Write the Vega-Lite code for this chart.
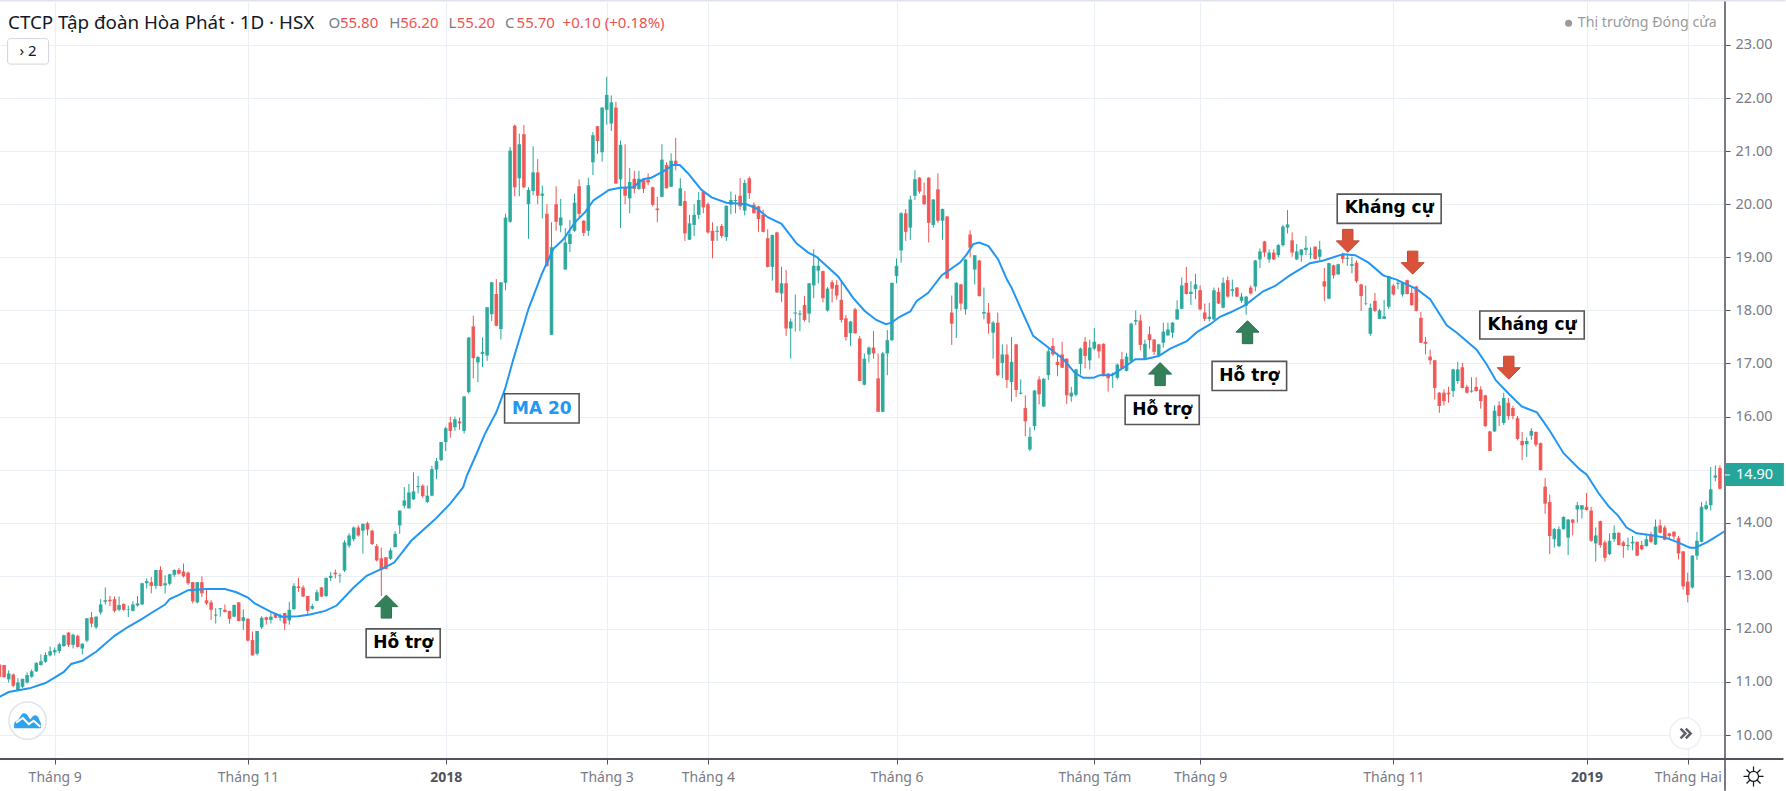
{"$schema":"https://vega.github.io/schema/vega-lite/v6.json","width":1725,"height":757,"autosize":"none","padding":{"left":0,"top":2,"right":61,"bottom":32},"background":"#ffffff","config":{"view":{"stroke":null}},
"datasets":{
"candles":[
{"bar":0,"open":11.33,"high":11.33,"low":11.05,"close":11.1},{"bar":1,"open":11.32,"high":11.32,"low":11.08,"close":11.09},{"bar":2,"open":11.05,"high":11.22,"low":10.99,"close":11.16},{"bar":3,"open":11.14,"high":11.16,"low":10.9,"close":10.93},{"bar":4,"open":10.85,"high":11.07,"low":10.83,"close":10.99},{"bar":5,"open":10.91,"high":11.06,"low":10.89,"close":11.06},{"bar":6,"open":10.99,"high":11.18,"low":10.97,"close":11.13},{"bar":7,"open":11.1,"high":11.24,"low":11.08,"close":11.2},{"bar":8,"open":11.2,"high":11.37,"low":11.19,"close":11.36},{"bar":9,"open":11.32,"high":11.52,"low":11.31,"close":11.39},
{"bar":10,"open":11.38,"high":11.56,"low":11.36,"close":11.51},{"bar":11,"open":11.5,"high":11.67,"low":11.48,"close":11.58},{"bar":12,"open":11.56,"high":11.65,"low":11.5,"close":11.6},{"bar":13,"open":11.58,"high":11.74,"low":11.54,"close":11.71},{"bar":14,"open":11.68,"high":11.89,"low":11.66,"close":11.88},{"bar":15,"open":11.93,"high":11.94,"low":11.66,"close":11.7},{"bar":16,"open":11.7,"high":11.91,"low":11.63,"close":11.89},{"bar":17,"open":11.87,"high":11.89,"low":11.65,"close":11.66},{"bar":18,"open":11.63,"high":11.73,"low":11.52,"close":11.72},{"bar":19,"open":11.78,"high":12.2,"low":11.75,"close":12.2},
{"bar":20,"open":12.22,"high":12.32,"low":12.03,"close":12.1},{"bar":21,"open":12.03,"high":12.24,"low":12.0,"close":12.23},{"bar":22,"open":12.31,"high":12.56,"low":12.27,"close":12.46},{"bar":23,"open":12.51,"high":12.78,"low":12.46,"close":12.54},{"bar":24,"open":12.55,"high":12.62,"low":12.43,"close":12.52},{"bar":25,"open":12.56,"high":12.61,"low":12.31,"close":12.34},{"bar":26,"open":12.36,"high":12.61,"low":12.33,"close":12.45},{"bar":27,"open":12.47,"high":12.48,"low":12.34,"close":12.36},{"bar":28,"open":12.36,"high":12.44,"low":12.22,"close":12.37},{"bar":29,"open":12.34,"high":12.52,"low":12.33,"close":12.46},
{"bar":30,"open":12.44,"high":12.62,"low":12.42,"close":12.48},{"bar":31,"open":12.46,"high":12.87,"low":12.45,"close":12.86},{"bar":32,"open":12.86,"high":12.95,"low":12.76,"close":12.9},{"bar":33,"open":12.88,"high":12.98,"low":12.67,"close":12.81},{"bar":34,"open":12.81,"high":13.11,"low":12.75,"close":13.11},{"bar":35,"open":13.11,"high":13.18,"low":12.8,"close":12.81},{"bar":36,"open":12.82,"high":13.01,"low":12.67,"close":12.86},{"bar":37,"open":12.85,"high":13.04,"low":12.82,"close":13.03},{"bar":38,"open":13.02,"high":13.12,"low":12.98,"close":13.11},{"bar":39,"open":13.11,"high":13.15,"low":13.02,"close":13.04},
{"bar":40,"open":13.08,"high":13.23,"low":12.97,"close":12.99},{"bar":41,"open":13.06,"high":13.08,"low":12.83,"close":12.86},{"bar":42,"open":12.88,"high":12.88,"low":12.48,"close":12.52},{"bar":43,"open":12.5,"high":12.88,"low":12.48,"close":12.88},{"bar":44,"open":12.88,"high":12.99,"low":12.6,"close":12.67},{"bar":45,"open":12.54,"high":12.73,"low":12.45,"close":12.48},{"bar":46,"open":12.5,"high":12.54,"low":12.17,"close":12.36},{"bar":47,"open":12.25,"high":12.39,"low":12.1,"close":12.27},{"bar":48,"open":12.37,"high":12.39,"low":12.23,"close":12.39},{"bar":49,"open":12.36,"high":12.46,"low":12.31,"close":12.32},
{"bar":50,"open":12.34,"high":12.34,"low":12.1,"close":12.19},{"bar":51,"open":12.23,"high":12.46,"low":12.22,"close":12.45},{"bar":52,"open":12.5,"high":12.5,"low":12.14,"close":12.15},{"bar":53,"open":12.15,"high":12.37,"low":11.98,"close":12.22},{"bar":54,"open":12.19,"high":12.2,"low":11.76,"close":11.78},{"bar":55,"open":11.79,"high":11.95,"low":11.5,"close":11.5},{"bar":56,"open":11.53,"high":11.96,"low":11.5,"close":11.96},{"bar":57,"open":12.03,"high":12.24,"low":12.0,"close":12.21},{"bar":58,"open":12.22,"high":12.23,"low":12.08,"close":12.17},{"bar":59,"open":12.17,"high":12.3,"low":12.1,"close":12.23},
{"bar":60,"open":12.29,"high":12.3,"low":12.2,"close":12.21},{"bar":61,"open":12.21,"high":12.29,"low":12.15,"close":12.25},{"bar":62,"open":12.3,"high":12.3,"low":11.98,"close":12.1},{"bar":63,"open":12.16,"high":12.51,"low":12.08,"close":12.36},{"bar":64,"open":12.37,"high":12.86,"low":12.36,"close":12.81},{"bar":65,"open":12.8,"high":12.96,"low":12.7,"close":12.77},{"bar":66,"open":12.78,"high":12.82,"low":12.6,"close":12.61},{"bar":67,"open":12.62,"high":12.62,"low":12.28,"close":12.34},{"bar":68,"open":12.38,"high":12.47,"low":12.36,"close":12.43},{"bar":69,"open":12.53,"high":12.74,"low":12.52,"close":12.69},
{"bar":70,"open":12.78,"high":12.79,"low":12.6,"close":12.61},{"bar":71,"open":12.62,"high":12.97,"low":12.6,"close":12.96},{"bar":72,"open":12.96,"high":13.07,"low":12.9,"close":13.0},{"bar":73,"open":13.06,"high":13.12,"low":12.95,"close":13.03},{"bar":74,"open":13.0,"high":13.05,"low":12.87,"close":13.01},{"bar":75,"open":13.1,"high":13.67,"low":13.07,"close":13.63},{"bar":76,"open":13.57,"high":13.8,"low":13.53,"close":13.76},{"bar":77,"open":13.69,"high":13.93,"low":13.65,"close":13.91},{"bar":78,"open":13.91,"high":13.95,"low":13.74,"close":13.76},{"bar":79,"open":13.85,"high":13.98,"low":13.42,"close":13.98},
{"bar":80,"open":13.99,"high":14.02,"low":13.76,"close":13.87},{"bar":81,"open":13.85,"high":13.87,"low":13.58,"close":13.6},{"bar":82,"open":13.56,"high":13.6,"low":13.27,"close":13.29},{"bar":83,"open":13.33,"high":13.53,"low":12.62,"close":13.12},{"bar":84,"open":13.35,"high":13.35,"low":13.12,"close":13.13},{"bar":85,"open":13.32,"high":13.52,"low":13.3,"close":13.48},{"bar":86,"open":13.54,"high":13.84,"low":13.54,"close":13.79},{"bar":87,"open":13.95,"high":14.23,"low":13.79,"close":14.23},{"bar":88,"open":14.32,"high":14.67,"low":14.27,"close":14.42},{"bar":89,"open":14.27,"high":14.73,"low":14.27,"close":14.57},
{"bar":90,"open":14.44,"high":14.95,"low":14.43,"close":14.59},{"bar":91,"open":14.67,"high":14.88,"low":14.55,"close":14.69},{"bar":92,"open":14.7,"high":14.72,"low":14.47,"close":14.5},{"bar":93,"open":14.39,"high":14.7,"low":14.37,"close":14.51},{"bar":94,"open":14.51,"high":15.07,"low":14.5,"close":15.01},{"bar":95,"open":15.0,"high":15.22,"low":14.82,"close":15.16},{"bar":96,"open":15.18,"high":15.52,"low":15.16,"close":15.52},{"bar":97,"open":15.52,"high":15.81,"low":15.35,"close":15.78},{"bar":98,"open":15.89,"high":16.0,"low":15.6,"close":15.73},{"bar":99,"open":15.8,"high":16.0,"low":15.73,"close":15.95},
{"bar":100,"open":15.91,"high":15.98,"low":15.75,"close":15.87},{"bar":101,"open":15.73,"high":16.38,"low":15.68,"close":16.38},{"bar":102,"open":16.46,"high":17.49,"low":16.43,"close":17.49},{"bar":103,"open":17.7,"high":17.9,"low":16.72,"close":17.1},{"bar":104,"open":17.02,"high":17.14,"low":16.65,"close":17.12},{"bar":105,"open":17.18,"high":17.49,"low":16.93,"close":17.22},{"bar":106,"open":17.15,"high":18.06,"low":17.05,"close":18.06},{"bar":107,"open":17.93,"high":18.54,"low":17.8,"close":18.53},{"bar":108,"open":18.31,"high":18.59,"low":17.7,"close":17.71},{"bar":109,"open":17.65,"high":18.53,"low":17.45,"close":18.53},
{"bar":110,"open":18.52,"high":19.82,"low":18.38,"close":19.75},{"bar":111,"open":19.67,"high":21.08,"low":19.65,"close":21.01},{"bar":112,"open":21.48,"high":21.5,"low":20.15,"close":20.32},{"bar":113,"open":20.49,"high":21.33,"low":20.15,"close":21.13},{"bar":114,"open":21.32,"high":21.49,"low":20.3,"close":20.32},{"bar":115,"open":20.0,"high":20.32,"low":19.35,"close":20.27},{"bar":116,"open":20.25,"high":21.09,"low":20.17,"close":20.6},{"bar":117,"open":20.6,"high":20.85,"low":20.0,"close":20.16},{"bar":118,"open":20.16,"high":20.35,"low":19.73,"close":20.2},{"bar":119,"open":19.82,"high":20.0,"low":18.82,"close":18.84},
{"bar":120,"open":17.54,"high":19.66,"low":17.54,"close":19.19},{"bar":121,"open":20.0,"high":20.34,"low":19.5,"close":19.67},{"bar":122,"open":19.6,"high":20.1,"low":19.47,"close":19.75},{"bar":123,"open":18.77,"high":19.55,"low":18.77,"close":19.28},{"bar":124,"open":19.25,"high":19.7,"low":19.1,"close":19.44},{"bar":125,"open":19.5,"high":20.2,"low":19.48,"close":20.03},{"bar":126,"open":20.34,"high":20.47,"low":19.75,"close":19.82},{"bar":127,"open":19.69,"high":19.7,"low":19.4,"close":19.46},{"bar":128,"open":19.5,"high":20.5,"low":19.4,"close":20.36},{"bar":129,"open":20.79,"high":21.36,"low":20.55,"close":21.3},
{"bar":130,"open":21.47,"high":21.47,"low":20.95,"close":21.19},{"bar":131,"open":20.98,"high":21.83,"low":20.8,"close":21.82},{"bar":132,"open":21.78,"high":22.4,"low":21.5,"close":22.06},{"bar":133,"open":21.52,"high":22.05,"low":21.38,"close":21.92},{"bar":134,"open":21.82,"high":21.93,"low":20.39,"close":20.39},{"bar":135,"open":20.47,"high":21.2,"low":19.55,"close":21.12},{"bar":136,"open":20.32,"high":21.13,"low":20.0,"close":20.16},{"bar":137,"open":20.11,"high":20.68,"low":19.83,"close":20.42},{"bar":138,"open":20.48,"high":20.63,"low":20.21,"close":20.29},{"bar":139,"open":20.29,"high":20.63,"low":20.27,"close":20.48},
{"bar":140,"open":20.46,"high":20.49,"low":20.21,"close":20.29},{"bar":141,"open":20.46,"high":20.58,"low":20.36,"close":20.41},{"bar":142,"open":20.32,"high":20.33,"low":19.96,"close":19.99},{"bar":143,"open":19.92,"high":20.14,"low":19.66,"close":19.89},{"bar":144,"open":20.14,"high":21.13,"low":20.13,"close":20.84},{"bar":145,"open":20.74,"high":20.79,"low":20.3,"close":20.3},{"bar":146,"open":20.33,"high":20.96,"low":20.32,"close":20.82},{"bar":147,"open":20.82,"high":21.25,"low":20.64,"close":20.72},{"bar":148,"open":19.97,"high":20.49,"low":19.97,"close":20.3},{"bar":149,"open":20.06,"high":20.25,"low":19.31,"close":19.45},
{"bar":150,"open":19.33,"high":19.8,"low":19.33,"close":19.64},{"bar":151,"open":19.61,"high":20.0,"low":19.4,"close":19.8},{"bar":152,"open":19.8,"high":20.23,"low":19.72,"close":20.08},{"bar":153,"open":20.23,"high":20.25,"low":19.83,"close":19.94},{"bar":154,"open":20.0,"high":20.03,"low":19.45,"close":19.47},{"bar":155,"open":19.5,"high":19.66,"low":18.98,"close":19.31},{"bar":156,"open":19.48,"high":19.59,"low":19.31,"close":19.5},{"bar":157,"open":19.59,"high":19.63,"low":19.36,"close":19.4},{"bar":158,"open":19.38,"high":19.98,"low":19.31,"close":19.97},{"bar":159,"open":19.99,"high":20.24,"low":19.81,"close":20.08},
{"bar":160,"open":20.06,"high":20.18,"low":19.83,"close":20.08},{"bar":161,"open":20.16,"high":20.49,"low":19.89,"close":19.96},{"bar":162,"open":19.88,"high":20.46,"low":19.79,"close":20.4},{"bar":163,"open":20.49,"high":20.52,"low":20.1,"close":20.21},{"bar":164,"open":19.99,"high":20.04,"low":19.83,"close":19.83},{"bar":165,"open":19.96,"high":19.97,"low":19.48,"close":19.72},{"bar":166,"open":19.8,"high":19.9,"low":19.47,"close":19.48},{"bar":167,"open":19.36,"high":19.53,"low":18.81,"close":18.82},{"bar":168,"open":18.82,"high":19.43,"low":18.56,"close":19.42},{"bar":169,"open":19.47,"high":19.48,"low":18.33,"close":18.34},
{"bar":170,"open":18.32,"high":18.82,"low":18.16,"close":18.51},{"bar":171,"open":18.51,"high":18.76,"low":17.52,"close":17.66},{"bar":172,"open":17.66,"high":17.85,"low":17.09,"close":17.79},{"bar":173,"open":17.94,"high":18.3,"low":17.6,"close":17.96},{"bar":174,"open":17.92,"high":18.0,"low":17.61,"close":17.94},{"bar":175,"open":18.1,"high":18.27,"low":17.79,"close":17.82},{"bar":176,"open":17.94,"high":18.52,"low":17.77,"close":18.51},{"bar":177,"open":18.47,"high":19.15,"low":18.23,"close":18.84},{"bar":178,"open":18.75,"high":19.01,"low":18.51,"close":18.84},{"bar":179,"open":18.74,"high":18.75,"low":18.15,"close":18.23},
{"bar":180,"open":18.0,"high":18.44,"low":17.98,"close":18.41},{"bar":181,"open":18.53,"high":18.57,"low":18.15,"close":18.41},{"bar":182,"open":18.48,"high":18.57,"low":18.2,"close":18.28},{"bar":183,"open":18.2,"high":18.57,"low":17.77,"close":17.82},{"bar":184,"open":17.85,"high":17.91,"low":17.43,"close":17.5},{"bar":185,"open":17.57,"high":17.8,"low":17.33,"close":17.79},{"bar":186,"open":18.02,"high":18.05,"low":17.56,"close":17.57},{"bar":187,"open":17.47,"high":17.52,"low":16.67,"close":16.67},{"bar":188,"open":16.6,"high":17.19,"low":16.59,"close":17.09},{"bar":189,"open":17.17,"high":17.32,"low":17.02,"close":17.3},
{"bar":190,"open":17.3,"high":17.61,"low":17.09,"close":17.19},{"bar":191,"open":16.72,"high":17.19,"low":16.09,"close":16.09},{"bar":192,"open":16.09,"high":17.22,"low":16.08,"close":17.19},{"bar":193,"open":17.19,"high":17.63,"low":16.78,"close":17.44},{"bar":194,"open":17.44,"high":18.52,"low":17.42,"close":18.52},{"bar":195,"open":18.65,"high":18.98,"low":18.51,"close":18.84},{"bar":196,"open":19.13,"high":19.85,"low":18.9,"close":19.83},{"bar":197,"open":19.83,"high":19.91,"low":19.31,"close":19.48},{"bar":198,"open":19.56,"high":20.16,"low":19.33,"close":20.09},{"bar":199,"open":20.16,"high":20.64,"low":20.08,"close":20.47},
{"bar":200,"open":20.5,"high":20.51,"low":20.2,"close":20.24},{"bar":201,"open":20.17,"high":20.41,"low":19.99,"close":20.0},{"bar":202,"open":20.5,"high":20.51,"low":19.28,"close":19.65},{"bar":203,"open":19.61,"high":20.09,"low":19.56,"close":20.09},{"bar":204,"open":20.28,"high":20.58,"low":19.65,"close":19.69},{"bar":205,"open":19.69,"high":19.92,"low":19.33,"close":19.91},{"bar":206,"open":19.77,"high":19.78,"low":18.6,"close":18.6},{"bar":207,"open":17.96,"high":18.28,"low":17.35,"close":17.75},{"bar":208,"open":18.03,"high":18.53,"low":17.48,"close":18.52},{"bar":209,"open":18.49,"high":18.5,"low":18.0,"close":18.13},
{"bar":210,"open":18.02,"high":18.97,"low":17.92,"close":18.96},{"bar":211,"open":19.43,"high":19.51,"low":19.0,"close":19.18},{"bar":212,"open":18.77,"high":19.04,"low":18.49,"close":19.04},{"bar":213,"open":18.94,"high":18.95,"low":18.26,"close":18.27},{"bar":214,"open":17.94,"high":18.43,"low":17.83,"close":17.97},{"bar":215,"open":17.96,"high":18.14,"low":17.56,"close":17.75},{"bar":216,"open":17.58,"high":17.8,"low":17.09,"close":17.77},{"bar":217,"open":17.77,"high":17.96,"low":16.76,"close":16.78},{"bar":218,"open":17.01,"high":17.36,"low":16.72,"close":17.17},{"bar":219,"open":17.17,"high":17.36,"low":16.54,"close":16.69},
{"bar":220,"open":16.65,"high":17.5,"low":16.28,"close":17.03},{"bar":221,"open":17.36,"high":17.37,"low":16.37,"close":16.5},{"bar":222,"open":16.43,"high":16.7,"low":16.42,"close":16.45},{"bar":223,"open":16.16,"high":16.4,"low":15.63,"close":15.91},{"bar":224,"open":15.38,"high":15.8,"low":15.35,"close":15.62},{"bar":225,"open":15.82,"high":16.5,"low":15.74,"close":16.49},{"bar":226,"open":16.7,"high":16.76,"low":16.23,"close":16.42},{"bar":227,"open":16.19,"high":16.73,"low":16.18,"close":16.71},{"bar":228,"open":16.78,"high":17.3,"low":16.69,"close":17.23},{"bar":229,"open":17.33,"high":17.48,"low":17.14,"close":17.17},
{"bar":230,"open":17.03,"high":17.2,"low":16.76,"close":16.97},{"bar":231,"open":17.17,"high":17.41,"low":16.92,"close":16.92},{"bar":232,"open":17.09,"high":17.1,"low":16.24,"close":16.4},{"bar":233,"open":16.38,"high":16.56,"low":16.28,"close":16.45},{"bar":234,"open":16.41,"high":16.9,"low":16.38,"close":16.89},{"bar":235,"open":16.99,"high":17.3,"low":16.79,"close":17.28},{"bar":236,"open":17.41,"high":17.5,"low":16.91,"close":17.14},{"bar":237,"open":17.06,"high":17.45,"low":16.89,"close":17.3},{"bar":238,"open":17.28,"high":17.67,"low":17.25,"close":17.41},{"bar":239,"open":17.36,"high":17.37,"low":17.1,"close":17.23},
{"bar":240,"open":17.37,"high":17.38,"low":16.76,"close":16.78},{"bar":241,"open":16.81,"high":16.82,"low":16.47,"close":16.72},{"bar":242,"open":16.79,"high":16.83,"low":16.54,"close":16.81},{"bar":243,"open":16.73,"high":17.0,"low":16.7,"close":16.98},{"bar":244,"open":17.08,"high":17.22,"low":16.89,"close":16.9},{"bar":245,"open":16.86,"high":17.2,"low":16.85,"close":17.13},{"bar":246,"open":17.04,"high":17.77,"low":17.03,"close":17.75},{"bar":247,"open":17.79,"high":18.0,"low":17.72,"close":17.82},{"bar":248,"open":17.81,"high":17.92,"low":17.25,"close":17.35},{"bar":249,"open":17.09,"high":17.45,"low":17.08,"close":17.37},
{"bar":250,"open":17.55,"high":17.7,"low":17.28,"close":17.44},{"bar":251,"open":17.45,"high":17.46,"low":17.16,"close":17.22},{"bar":252,"open":17.16,"high":17.37,"low":17.14,"close":17.36},{"bar":253,"open":17.39,"high":17.77,"low":17.3,"close":17.6},{"bar":254,"open":17.53,"high":17.77,"low":17.52,"close":17.64},{"bar":255,"open":17.58,"high":17.78,"low":17.48,"close":17.77},{"bar":256,"open":17.83,"high":18.19,"low":17.82,"close":18.02},{"bar":257,"open":18.03,"high":18.62,"low":18.02,"close":18.47},{"bar":258,"open":18.52,"high":18.82,"low":18.3,"close":18.31},{"bar":259,"open":18.31,"high":18.55,"low":18.1,"close":18.35},
{"bar":260,"open":18.4,"high":18.69,"low":18.21,"close":18.49},{"bar":261,"open":18.38,"high":18.47,"low":18.0,"close":18.02},{"bar":262,"open":17.96,"high":18.13,"low":17.8,"close":17.84},{"bar":263,"open":17.84,"high":18.14,"low":17.79,"close":17.88},{"bar":264,"open":17.83,"high":18.43,"low":17.82,"close":18.38},{"bar":265,"open":18.35,"high":18.43,"low":18.12,"close":18.13},{"bar":266,"open":18.05,"high":18.62,"low":18.04,"close":18.52},{"bar":267,"open":18.57,"high":18.64,"low":18.24,"close":18.26},{"bar":268,"open":18.37,"high":18.58,"low":18.26,"close":18.4},{"bar":269,"open":18.43,"high":18.44,"low":18.25,"close":18.26},
{"bar":270,"open":18.18,"high":18.33,"low":18.14,"close":18.26},{"bar":271,"open":18.09,"high":18.27,"low":17.92,"close":18.26},{"bar":272,"open":18.43,"high":18.47,"low":18.3,"close":18.32},{"bar":273,"open":18.45,"high":18.95,"low":18.36,"close":18.94},{"bar":274,"open":18.96,"high":19.17,"low":18.8,"close":19.11},{"bar":275,"open":19.3,"high":19.31,"low":19.01,"close":19.09},{"bar":276,"open":18.96,"high":19.15,"low":18.9,"close":19.09},{"bar":277,"open":19.09,"high":19.15,"low":18.95,"close":18.96},{"bar":278,"open":19.04,"high":19.25,"low":19.0,"close":19.23},{"bar":279,"open":19.23,"high":19.61,"low":19.2,"close":19.58},
{"bar":280,"open":19.56,"high":19.89,"low":19.45,"close":19.62},{"bar":281,"open":19.32,"high":19.47,"low":19.01,"close":19.09},{"bar":282,"open":18.96,"high":19.25,"low":18.95,"close":19.11},{"bar":283,"open":19.04,"high":19.15,"low":18.92,"close":19.15},{"bar":284,"open":19.14,"high":19.4,"low":19.04,"close":19.18},{"bar":285,"open":19.05,"high":19.19,"low":18.97,"close":19.07},{"bar":286,"open":19.2,"high":19.21,"low":18.96,"close":18.97},{"bar":287,"open":19.01,"high":19.31,"low":18.95,"close":19.15},{"bar":288,"open":18.55,"high":18.8,"low":18.18,"close":18.45},{"bar":289,"open":18.22,"high":18.9,"low":18.21,"close":18.89},
{"bar":290,"open":18.85,"high":18.86,"low":18.6,"close":18.66},{"bar":291,"open":18.68,"high":18.88,"low":18.67,"close":18.87},{"bar":292,"open":19.06,"high":19.09,"low":18.89,"close":18.97},{"bar":293,"open":18.97,"high":19.04,"low":18.84,"close":18.99},{"bar":294,"open":18.84,"high":19.01,"low":18.7,"close":18.87},{"bar":295,"open":18.9,"high":18.94,"low":18.52,"close":18.55},{"bar":296,"open":18.49,"high":18.5,"low":17.99,"close":18.27},{"bar":297,"open":18.13,"high":18.47,"low":18.1,"close":18.14},{"bar":298,"open":17.56,"high":18.13,"low":17.52,"close":18.05},{"bar":299,"open":18.18,"high":18.33,"low":17.97,"close":17.99},
{"bar":300,"open":17.84,"high":18.03,"low":17.84,"close":18.0},{"bar":301,"open":17.84,"high":18.2,"low":17.84,"close":17.89},{"bar":302,"open":18.07,"high":18.65,"low":18.03,"close":18.64},{"bar":303,"open":18.47,"high":18.5,"low":18.28,"close":18.3},{"bar":304,"open":18.5,"high":18.57,"low":18.4,"close":18.52},{"bar":305,"open":18.3,"high":18.52,"low":18.26,"close":18.52},{"bar":306,"open":18.57,"high":18.58,"low":18.3,"close":18.31},{"bar":307,"open":18.33,"high":18.45,"low":18.09,"close":18.1},{"bar":308,"open":18.45,"high":18.46,"low":17.98,"close":17.99},{"bar":309,"open":17.86,"high":17.97,"low":17.39,"close":17.39},
{"bar":310,"open":17.41,"high":17.5,"low":17.17,"close":17.37},{"bar":311,"open":17.13,"high":17.26,"low":16.98,"close":17.06},{"bar":312,"open":17.06,"high":17.07,"low":16.32,"close":16.54},{"bar":313,"open":16.45,"high":16.46,"low":16.07,"close":16.2},{"bar":314,"open":16.45,"high":16.51,"low":16.21,"close":16.29},{"bar":315,"open":16.45,"high":16.56,"low":16.26,"close":16.42},{"bar":316,"open":16.48,"high":16.9,"low":16.37,"close":16.89},{"bar":317,"open":16.67,"high":17.03,"low":16.62,"close":16.89},{"bar":318,"open":16.93,"high":17.01,"low":16.53,"close":16.54},{"bar":319,"open":16.56,"high":16.6,"low":16.43,"close":16.45},
{"bar":320,"open":16.47,"high":16.74,"low":16.45,"close":16.49},{"bar":321,"open":16.56,"high":16.74,"low":16.47,"close":16.48},{"bar":322,"open":16.51,"high":16.57,"low":16.15,"close":16.29},{"bar":323,"open":16.4,"high":16.41,"low":15.81,"close":15.82},{"bar":324,"open":15.72,"high":15.73,"low":15.35,"close":15.35},{"bar":325,"open":15.72,"high":16.21,"low":15.71,"close":16.11},{"bar":326,"open":16.21,"high":16.29,"low":15.82,"close":16.01},{"bar":327,"open":15.88,"high":16.45,"low":15.84,"close":16.35},{"bar":328,"open":16.26,"high":16.35,"low":15.94,"close":16.01},{"bar":329,"open":16.16,"high":16.2,"low":15.95,"close":16.01},
{"bar":330,"open":15.97,"high":16.01,"low":15.55,"close":15.58},{"bar":331,"open":15.54,"high":15.71,"low":15.18,"close":15.46},{"bar":332,"open":15.48,"high":15.61,"low":15.24,"close":15.54},{"bar":333,"open":15.64,"high":15.78,"low":15.56,"close":15.73},{"bar":334,"open":15.71,"high":15.72,"low":15.43,"close":15.47},{"bar":335,"open":15.5,"high":15.51,"low":14.99,"close":14.99},{"bar":336,"open":14.68,"high":14.84,"low":14.17,"close":14.36},{"bar":337,"open":14.39,"high":14.53,"low":13.41,"close":13.75},{"bar":338,"open":13.69,"high":13.9,"low":13.53,"close":13.88},{"bar":339,"open":13.56,"high":13.93,"low":13.54,"close":13.88},
{"bar":340,"open":13.88,"high":14.12,"low":13.87,"close":14.11},{"bar":341,"open":13.72,"high":14.07,"low":13.39,"close":14.06},{"bar":342,"open":14.06,"high":14.07,"low":13.76,"close":14.0},{"bar":343,"open":14.25,"high":14.39,"low":14.0,"close":14.33},{"bar":344,"open":14.25,"high":14.33,"low":14.08,"close":14.33},{"bar":345,"open":14.3,"high":14.56,"low":14.23,"close":14.24},{"bar":346,"open":14.23,"high":14.3,"low":13.64,"close":13.66},{"bar":347,"open":13.61,"high":13.91,"low":13.27,"close":13.76},{"bar":348,"open":14.03,"high":14.04,"low":13.53,"close":13.58},{"bar":349,"open":13.63,"high":13.67,"low":13.27,"close":13.34},
{"bar":350,"open":13.41,"high":13.8,"low":13.39,"close":13.66},{"bar":351,"open":13.69,"high":13.95,"low":13.64,"close":13.81},{"bar":352,"open":13.81,"high":13.82,"low":13.57,"close":13.58},{"bar":353,"open":13.63,"high":13.66,"low":13.34,"close":13.56},{"bar":354,"open":13.56,"high":13.72,"low":13.48,"close":13.58},{"bar":355,"open":13.61,"high":13.75,"low":13.48,"close":13.64},{"bar":356,"open":13.64,"high":13.65,"low":13.37,"close":13.38},{"bar":357,"open":13.58,"high":13.66,"low":13.48,"close":13.5},{"bar":358,"open":13.56,"high":13.79,"low":13.55,"close":13.69},{"bar":359,"open":13.78,"high":13.83,"low":13.62,"close":13.64},
{"bar":360,"open":13.59,"high":14.06,"low":13.58,"close":13.93},{"bar":361,"open":13.95,"high":14.06,"low":13.8,"close":13.81},{"bar":362,"open":13.91,"high":13.95,"low":13.67,"close":13.68},{"bar":363,"open":13.8,"high":13.81,"low":13.69,"close":13.75},{"bar":364,"open":13.83,"high":13.84,"low":13.68,"close":13.74},{"bar":365,"open":13.71,"high":13.75,"low":13.31,"close":13.42},{"bar":366,"open":13.46,"high":13.47,"low":12.74,"close":12.8},{"bar":367,"open":12.89,"high":13.06,"low":12.5,"close":12.64},{"bar":368,"open":12.78,"high":13.39,"low":12.76,"close":13.38},{"bar":369,"open":13.38,"high":13.83,"low":13.3,"close":13.66},
{"bar":370,"open":13.64,"high":14.39,"low":13.63,"close":14.3},{"bar":371,"open":14.26,"high":14.41,"low":14.24,"close":14.33},{"bar":372,"open":14.33,"high":15.05,"low":14.23,"close":14.63},{"bar":373,"open":14.85,"high":15.08,"low":14.78,"close":14.89},{"bar":374,"open":15.03,"high":15.08,"low":14.63,"close":14.64}
],
"movingAverage":[{"bar":0,"ma":10.72},{"bar":2,"ma":10.81},{"bar":6.5,"ma":10.88},{"bar":10,"ma":10.98},{"bar":14,"ma":11.19},{"bar":15.6,"ma":11.34},{"bar":18,"ma":11.4},{"bar":21,"ma":11.57},{"bar":25,"ma":11.87},{"bar":28,"ma":12.04},{"bar":31,"ma":12.19},{"bar":33,"ma":12.3},{"bar":36,"ma":12.46},{"bar":37,"ma":12.56},{"bar":39,"ma":12.64},{"bar":41,"ma":12.73},{"bar":45,"ma":12.75},{"bar":49,"ma":12.75},{"bar":51.5,"ma":12.69},{"bar":54,"ma":12.59},{"bar":55.5,"ma":12.48},{"bar":59,"ma":12.32},{"bar":61.5,"ma":12.23},{"bar":65,"ma":12.24},{"bar":67.5,"ma":12.27},{"bar":70.8,"ma":12.34},{"bar":73.3,"ma":12.44},{"bar":77,"ma":12.78},{"bar":79.8,"ma":13.0},{"bar":83.3,"ma":13.14},{"bar":85.8,"ma":13.25},{"bar":89.5,"ma":13.66},{"bar":94.5,"ma":14.05},{"bar":97.9,"ma":14.35},{"bar":100.8,"ma":14.67},{"bar":101.6,"ma":14.89},{"bar":103.7,"ma":15.3},{"bar":105.5,"ma":15.67},{"bar":108,"ma":16.08},{"bar":109.9,"ma":16.52},{"bar":111.7,"ma":17.08},{"bar":115,"ma":18.03},{"bar":117.9,"ma":18.69},{"bar":120.4,"ma":19.16},{"bar":122.6,"ma":19.34},{"bar":125.1,"ma":19.66},{"bar":127.3,"ma":19.85},{"bar":129.1,"ma":20.07},{"bar":132.5,"ma":20.27},{"bar":134.9,"ma":20.31},{"bar":137.7,"ma":20.32},{"bar":139.9,"ma":20.47},{"bar":141.7,"ma":20.5},{"bar":144.3,"ma":20.62},{"bar":146.4,"ma":20.74},{"bar":147.9,"ma":20.74},{"bar":149.7,"ma":20.58},{"bar":152.6,"ma":20.27},{"bar":154.8,"ma":20.13},{"bar":158,"ma":20.03},{"bar":162.4,"ma":20.0},{"bar":164.6,"ma":19.92},{"bar":167.1,"ma":19.75},{"bar":170,"ma":19.63},{"bar":173.3,"ma":19.26},{"bar":175.8,"ma":19.09},{"bar":177.6,"ma":19.01},{"bar":182.3,"ma":18.64},{"bar":185.6,"ma":18.23},{"bar":188.1,"ma":17.99},{"bar":190.6,"ma":17.82},{"bar":192.7,"ma":17.74},{"bar":193.9,"ma":17.77},{"bar":195.7,"ma":17.88},{"bar":198,"ma":17.98},{"bar":199.4,"ma":18.18},{"bar":201.9,"ma":18.33},{"bar":204.8,"ma":18.66},{"bar":208.8,"ma":18.9},{"bar":210.3,"ma":19.06},{"bar":211.7,"ma":19.25},{"bar":213,"ma":19.28},{"bar":215,"ma":19.21},{"bar":217.1,"ma":18.96},{"bar":219,"ma":18.58},{"bar":220,"ma":18.43},{"bar":222.6,"ma":17.92},{"bar":224.7,"ma":17.52},{"bar":228,"ma":17.3},{"bar":231.3,"ma":17.08},{"bar":233.8,"ma":16.82},{"bar":235.6,"ma":16.73},{"bar":237.8,"ma":16.73},{"bar":239.2,"ma":16.78},{"bar":241.8,"ma":16.78},{"bar":244.3,"ma":16.92},{"bar":246.9,"ma":17.08},{"bar":249,"ma":17.08},{"bar":252,"ma":17.14},{"bar":254.5,"ma":17.28},{"bar":258.1,"ma":17.42},{"bar":260.3,"ma":17.59},{"bar":263.2,"ma":17.74},{"bar":265.3,"ma":17.88},{"bar":267.5,"ma":17.96},{"bar":270.8,"ma":18.1},{"bar":274.7,"ma":18.36},{"bar":277.3,"ma":18.46},{"bar":280.5,"ma":18.66},{"bar":284.9,"ma":18.89},{"bar":287.8,"ma":18.94},{"bar":292.1,"ma":19.06},{"bar":294.7,"ma":19.04},{"bar":297.6,"ma":18.9},{"bar":300.8,"ma":18.66},{"bar":303.7,"ma":18.58},{"bar":308.1,"ma":18.4},{"bar":311,"ma":18.21},{"bar":314.6,"ma":17.72},{"bar":316.8,"ma":17.58},{"bar":321.1,"ma":17.26},{"bar":323.3,"ma":16.98},{"bar":325.3,"ma":16.68},{"bar":328.2,"ma":16.42},{"bar":330.9,"ma":16.19},{"bar":334.2,"ma":16.08},{"bar":335.6,"ma":15.91},{"bar":337.1,"ma":15.72},{"bar":340,"ma":15.31},{"bar":343.6,"ma":15.0},{"bar":345,"ma":14.91},{"bar":347.6,"ma":14.56},{"bar":349.8,"ma":14.31},{"bar":351.9,"ma":14.13},{"bar":353.7,"ma":13.91},{"bar":355.9,"ma":13.8},{"bar":358.8,"ma":13.77},{"bar":362.1,"ma":13.72},{"bar":364.6,"ma":13.64},{"bar":367.5,"ma":13.53},{"bar":368.6,"ma":13.53},{"bar":371.1,"ma":13.63},{"bar":373,"ma":13.73},{"bar":375,"ma":13.84}],
"boxes":[{"bar":109.8,"barEnd":126,"top":16.43,"bottom":15.88},{"bar":79.7,"barEnd":95.8,"top":12.0,"bottom":11.46},{"bar":244.7,"barEnd":260.8,"top":16.4,"bottom":15.85},{"bar":263.6,"barEnd":279.8,"top":17.04,"bottom":16.49},{"bar":290.8,"barEnd":313.4,"top":20.19,"bottom":19.64},{"bar":321.8,"barEnd":344.5,"top":17.99,"bottom":17.46}],
"support":[{"bar":87.75,"price":11.73,"label":"Hỗ trợ"},{"bar":252.75,"price":16.13,"label":"Hỗ trợ"},{"bar":271.7,"price":16.77,"label":"Hỗ trợ"},{"bar":302.1,"price":19.92,"label":"Kháng cự"},{"bar":333.15,"price":17.73,"label":"Kháng cự"}],
"upArrows":[{"bar":84.1,"price":12.42},{"bar":252.3,"price":16.8},{"bar":271.3,"price":17.59}],
"downArrows":[{"bar":293.1,"price":19.31},{"bar":307.2,"price":18.9},{"bar":328.1,"price":16.92}],
"ohlcLabels":[{"bar":71.5,"price":23.42,"label":"O"},{"bar":84.7,"price":23.42,"label":"H"},{"bar":97.6,"price":23.42,"label":"L"},{"bar":109.9,"price":23.42,"label":"C"}],
"ohlcValues":[{"bar":74,"price":23.42,"label":"55.80"},{"bar":87.1,"price":23.42,"label":"56.20"},{"bar":99.4,"price":23.42,"label":"55.20"},{"bar":112.4,"price":23.42,"label":"55.70"},{"bar":122.4,"price":23.42,"label":"+0.10 (+0.18%)"}]
},
"encoding":{"x":{"field":"bar","type":"quantitative"}},
"layer":[
{"data":{"name":"candles"},"mark":{"type":"rule","strokeWidth":1},
 "encoding":{"x":{"field":"bar","type":"quantitative","title":null,"scale":{"domain":[0.109,375.1],"nice":false,"zero":false,"padding":0},
   "axis":{"values":[12,54,97,132,154,195,238,261,303,345,367],"domain":false,"grid":true,"gridColor":"#e9eff4","gridWidth":1.2,"tickColor":"#50535e","tickSize":5,"tickWidth":1,"labelFont":"Noto Sans","labelFontSize":14,"labelPadding":6,"labelOverlap":false,"labelFlush":false,"labelBound":false,"labelColor":{"condition":{"test":"datum.value==97||datum.value==345","value":"#50535e"},"value":"#787b86"},"labelFontWeight":{"condition":{"test":"datum.value==97||datum.value==345","value":"bold"},"value":"normal"},"labelExpr":"{12:'Tháng 9',54:'Tháng 11',97:'2018',132:'Tháng 3',154:'Tháng 4',195:'Tháng 6',238:'Tháng Tám',261:'Tháng 9',303:'Tháng 11',345:'2019',367:'Tháng Hai'}[datum.value]"}},
  "y":{"field":"low","type":"quantitative","title":null,"scale":{"domain":[9.549,23.81],"nice":false,"zero":false},
   "axis":{"orient":"right","values":[10,11,12,13,14,15,16,17,18,19,20,21,22,23],"domain":false,"grid":true,"gridColor":"#e9eff4","gridWidth":1.2,"tickColor":"#50535e","tickSize":5,"tickWidth":1,"labelFont":"Noto Sans","labelFontSize":14.5,"labelColor":"#787b86","labelPadding":5,"labelExpr":"datum.value==15?'':format(datum.value,'.2f')"}},
  "y2":{"field":"high"},
  "color":{"condition":{"test":"datum.close>=datum.open","value":"#26a69a"},"value":"#ef5350"}}},
{"data":{"name":"candles"},"mark":{"type":"bar","size":3.6,"opacity":0.92},
 "encoding":{"y":{"field":"open","type":"quantitative"},"y2":{"field":"close"},
  "color":{"condition":{"test":"datum.close>=datum.open","value":"#26a69a"},"value":"#ef5350"}}},
{"data":{"name":"movingAverage"},"mark":{"type":"line","color":"#2196f3","strokeWidth":2},
 "encoding":{"y":{"field":"ma","type":"quantitative"}}},
{"data":{"values":[{"bar":375.1,"barEnd":375.1,"price":23.85,"priceEnd":8.95}]},"mark":{"type":"rule","color":"#787b86","strokeWidth":2},
 "encoding":{"y":{"field":"price","type":"quantitative"},"y2":{"field":"priceEnd"}}},
{"data":{"values":[{"bar":0,"barEnd":387.8,"price":9.549}]},"mark":{"type":"rule","color":"#50535e","strokeWidth":2},
 "encoding":{"x2":{"field":"barEnd"},"y":{"field":"price","type":"quantitative"}}},
{"data":{"values":[{"bar":0,"barEnd":388.3,"price":23.84}]},"mark":{"type":"rule","color":"#e0e3eb","strokeWidth":2},
 "encoding":{"x2":{"field":"barEnd"},"y":{"field":"price","type":"quantitative"}}},
{"data":{"name":"boxes"},"mark":{"type":"rect","fill":"#ffffff","stroke":"#555555","strokeWidth":1.6},
 "encoding":{"x2":{"field":"barEnd"},"y":{"field":"top","type":"quantitative"},"y2":{"field":"bottom"}}},
{"data":{"name":"support"},"mark":{"type":"text","font":"DejaVu Sans","fontWeight":"bold","fontSize":17,"color":"#000000","align":"center","baseline":"middle"},
 "encoding":{"y":{"field":"price","type":"quantitative"},"text":{"field":"label"}}},
{"data":{"values":[{"bar":117.9,"price":16.15,"label":"MA 20"}]},"mark":{"type":"text","font":"DejaVu Sans","fontWeight":"bold","fontSize":17,"color":"#2196f3","align":"center","baseline":"middle"},
 "encoding":{"y":{"field":"price","type":"quantitative"},"text":{"field":"label"}}},
{"data":{"name":"upArrows"},"mark":{"type":"point","shape":"M0,-1 L1,0 L0.45,0 L0.45,1 L-0.45,1 L-0.45,0 L-1,0 Z","size":529,"filled":true,"fill":"#33805a","stroke":"#2b6f4d","strokeWidth":1,"opacity":1},
 "encoding":{"y":{"field":"price","type":"quantitative"}}},
{"data":{"name":"downArrows"},"mark":{"type":"point","shape":"M0,1 L1,0 L0.45,0 L0.45,-1 L-0.45,-1 L-0.45,0 L-1,0 Z","size":529,"filled":true,"fill":"#d9533a","stroke":"#c24a33","strokeWidth":1,"opacity":1},
 "encoding":{"y":{"field":"price","type":"quantitative"}}},
{"data":{"values":[{"bar":1.85,"price":23.42,"label":"CTCP Tập đoàn Hòa Phát · 1D · HSX"}]},"mark":{"type":"text","font":"Noto Sans","fontSize":18.8,"color":"#131722","align":"left","baseline":"middle"},
 "encoding":{"y":{"field":"price","type":"quantitative"},"text":{"field":"label"}}},
{"data":{"name":"ohlcLabels"},"mark":{"type":"text","font":"Noto Sans","fontSize":15,"color":"#787b86","align":"left","baseline":"middle"},
 "encoding":{"y":{"field":"price","type":"quantitative"},"text":{"field":"label"}}},
{"data":{"name":"ohlcValues"},"mark":{"type":"text","font":"Noto Sans","fontSize":15,"color":"#ef5350","align":"left","baseline":"middle"},
 "encoding":{"y":{"field":"price","type":"quantitative"},"text":{"field":"label"}}},
{"data":{"values":[{"bar":343.1,"price":23.41,"label":"Thị trường Đóng cửa"}]},"mark":{"type":"text","font":"Noto Sans","fontSize":14.2,"color":"#9a9a9a","align":"left","baseline":"middle"},
 "encoding":{"y":{"field":"price","type":"quantitative"},"text":{"field":"label"}}},
{"data":{"values":[{"bar":341.1,"price":23.41}]},"mark":{"type":"point","shape":"circle","size":50,"filled":true,"color":"#9a9a9a","opacity":1},
 "encoding":{"y":{"field":"price","type":"quantitative"}}},
{"data":{"values":[{"bar":1.76,"barEnd":10.67,"top":23.12,"bottom":22.64}]},"mark":{"type":"rect","fill":"#ffffff","stroke":"#d1d4dc","strokeWidth":1,"cornerRadius":3},
 "encoding":{"x2":{"field":"barEnd"},"y":{"field":"top","type":"quantitative"},"y2":{"field":"bottom"}}},
{"data":{"values":[{"bar":6.2,"price":22.88,"label":"› 2"}]},"mark":{"type":"text","font":"Noto Sans","fontSize":15,"color":"#131722","align":"center","baseline":"middle"},
 "encoding":{"y":{"field":"price","type":"quantitative"},"text":{"field":"label"}}},
{"data":{"values":[{"bar":6.1,"price":10.27}]},"mark":{"type":"point","shape":"circle","size":1385,"filled":true,"fill":"#ffffff","stroke":"#e0e3eb","strokeWidth":1.5,"opacity":1},
 "encoding":{"y":{"field":"price","type":"quantitative"}}},
{"data":{"values":[{"bar":6.1,"price":10.27}]},"mark":{"type":"point","shape":"M-1,0.55 L-1,0.3 C-1,0.1 -0.85,0 -0.7,-0.05 L-0.45,-0.45 C-0.3,-0.62 -0.1,-0.55 0,-0.4 L0.2,-0.1 L0.4,-0.35 C0.55,-0.45 0.7,-0.4 0.8,-0.25 L0.9,0 C1,0.1 1,0.3 1,0.55 Z","size":729,"filled":true,"fill":"#2fa4ee","opacity":1},
 "encoding":{"y":{"field":"price","type":"quantitative"}}},
{"data":{"values":[{"bar":6.1,"price":10.27}]},"mark":{"type":"point","shape":"M-0.85,0.15 L-0.35,-0.2 L0.1,0.25 L0.45,0 L0.95,0.45","size":729,"filled":false,"stroke":"#ffffff","strokeWidth":2,"opacity":1},
 "encoding":{"y":{"field":"price","type":"quantitative"}}},
{"data":{"values":[{"bar":366.5,"price":10.03}]},"mark":{"type":"point","shape":"circle","size":960,"filled":true,"fill":"#ffffff","stroke":"#eeeff2","strokeWidth":1.5,"opacity":1},
 "encoding":{"y":{"field":"price","type":"quantitative"}}},
{"data":{"values":[{"bar":366.5,"price":10.03}]},"mark":{"type":"point","shape":"M-0.7,-0.7 L0,0 L-0.7,0.7 M0.05,-0.7 L0.75,0 L0.05,0.7","size":196,"filled":false,"stroke":"#5d606b","strokeWidth":2.5,"opacity":1},
 "encoding":{"y":{"field":"price","type":"quantitative"}}},
{"data":{"values":[{"bar":375.1,"barEnd":387.9,"top":15.125,"bottom":14.69}]},"mark":{"type":"rect","fill":"#26a69a"},
 "encoding":{"x2":{"field":"barEnd"},"y":{"field":"top","type":"quantitative"},"y2":{"field":"bottom"}}},
{"data":{"values":[{"bar":375.1,"barEnd":376.2,"price":14.9}]},"mark":{"type":"rule","color":"#ffffff","strokeWidth":1},
 "encoding":{"x2":{"field":"barEnd"},"y":{"field":"price","type":"quantitative"}}},
{"data":{"values":[{"bar":377.5,"price":14.9,"label":"14.90"}]},"mark":{"type":"text","font":"Noto Sans","fontSize":14.5,"color":"#ffffff","align":"left","baseline":"middle"},
 "encoding":{"y":{"field":"price","type":"quantitative"},"text":{"field":"label"}}},
{"data":{"values":[{"bar":381.3,"price":9.22}]},"mark":{"type":"point","shape":"M0.5,0 A0.5,0.5 0 1,1 -0.5,0 A0.5,0.5 0 1,1 0.5,0 M0,-0.5 L0,-1 M0,0.5 L0,1 M-0.5,0 L-1,0 M0.5,0 L1,0 M0.35,0.35 L0.7,0.7 M-0.35,0.35 L-0.7,0.7 M0.35,-0.35 L0.7,-0.7 M-0.35,-0.35 L-0.7,-0.7","size":400,"filled":false,"stroke":"#131722","strokeWidth":1.2,"opacity":1},
 "encoding":{"y":{"field":"price","type":"quantitative"}}}
]}
